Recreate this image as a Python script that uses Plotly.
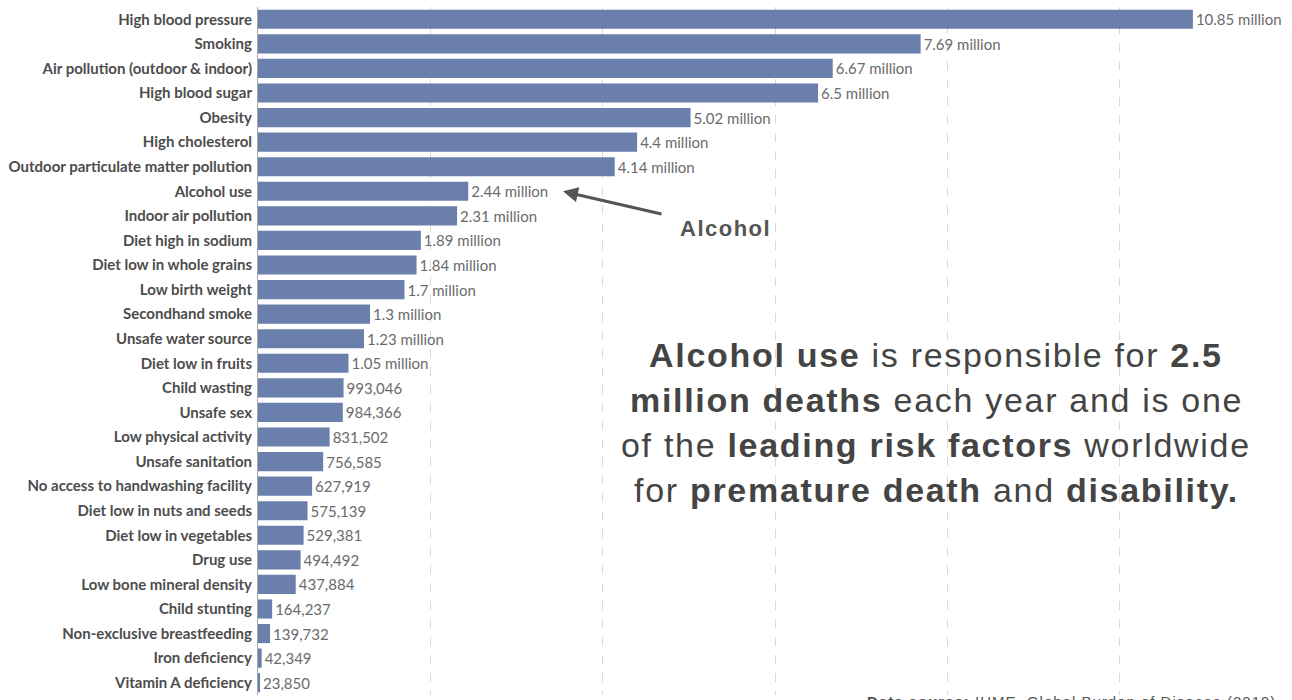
import plotly.graph_objects as go

# Number of deaths attributed to each risk factor (2019)
risk_factors = [
    "High blood pressure", "Smoking", "Air pollution (outdoor & indoor)",
    "High blood sugar", "Obesity", "High cholesterol",
    "Outdoor particulate matter pollution", "Alcohol use", "Indoor air pollution",
    "Diet high in sodium", "Diet low in whole grains", "Low birth weight",
    "Secondhand smoke", "Unsafe water source", "Diet low in fruits",
    "Child wasting", "Unsafe sex", "Low physical activity", "Unsafe sanitation",
    "No access to handwashing facility", "Diet low in nuts and seeds",
    "Diet low in vegetables", "Drug use", "Low bone mineral density",
    "Child stunting", "Non-exclusive breastfeeding", "Iron deficiency",
    "Vitamin A deficiency",
]
deaths = [
    10850000, 7690000, 6670000, 6500000, 5020000, 4400000, 4140000, 2440000,
    2310000, 1890000, 1840000, 1700000, 1300000, 1230000, 1050000,
    993046, 984366, 831502, 756585, 627919, 575139, 529381, 494492, 437884,
    164237, 139732, 42349, 23850,
]
grid_ticks = [0, 2, 4, 6, 8, 10, 12]


def fmt(v):
    if v >= 1_000_000:
        s = f"{v / 1_000_000:.2f}".rstrip("0").rstrip(".")
        return f"{s} million"
    return f"{v:,}"


x_millions = [v / 1_000_000 for v in deaths]
labels = [fmt(v) for v in deaths]

W, H = 1292, 700
M_L, M_R, M_T, M_B = 258, 0, 7, 5
X_MAX = 12
plot_h = H - M_T - M_B


def px_to_paper_y(p):
    return (H - M_B - p) / plot_h


def px_to_x(p):
    return (p - M_L) / (W - M_L - M_R) * X_MAX


def spaced(html, px):
    return f'<span style="letter-spacing:{px}px">{html}</span>'


fig = go.Figure(
    go.Bar(
        x=x_millions,
        y=risk_factors,
        orientation="h",
        text=labels,
        textposition="outside",
        textfont=dict(family="Lato", size=15, color="#6b6b6b"),
        marker=dict(color="#6a7fab", line=dict(width=0)),
        width=0.78,
        cliponaxis=False,
        constraintext="none",
        hoverinfo="skip",
    )
)

fig.update_layout(
    width=W,
    height=H,
    margin=dict(l=M_L, r=M_R, t=M_T, b=M_B, pad=0),
    paper_bgcolor="white",
    plot_bgcolor="white",
    showlegend=False,
    font=dict(family="Lato", color="#555555"),
)

fig.update_xaxes(
    range=[0, X_MAX],
    tickvals=grid_ticks,
    showticklabels=False,
    showgrid=True,
    gridcolor="#d9d9d9",
    griddash="dash",
    gridwidth=1,
    zeroline=False,
    showline=False,
    ticks="",
)

fig.update_yaxes(
    autorange="reversed",
    categoryorder="array",
    categoryarray=risk_factors,
    showline=True,
    linecolor="#a6a6a6",
    linewidth=1,
    showgrid=False,
    ticks="outside",
    ticklen=2,
    tickcolor="rgba(0,0,0,0)",
    tickfont=dict(family="Lato", size=15, color="#4d4d4d", weight="bold"),
)

# Arrow pointing at the alcohol bar
alc = risk_factors.index("Alcohol use")
fig.add_annotation(
    x=px_to_x(563), y=alc, xref="x", yref="y",
    ax=100, ay=23, axref="pixel", ayref="pixel",
    text="", showarrow=True,
    arrowhead=2, arrowsize=1, arrowwidth=3, arrowcolor="#555555",
)
fig.add_annotation(
    x=px_to_x(725), y=px_to_paper_y(228), xref="x", yref="paper",
    text=spaced("<b>Alcohol</b>", 1.5), showarrow=False,
    font=dict(family="Liberation Sans", size=22, color="#555555"),
    xanchor="center", yanchor="middle",
)

# Headline statement
statement = [
    "<b>Alcohol use</b> is responsible for <b>2.5</b>",
    "<b>million deaths</b> each year and is one",
    "of the <b>leading risk factors</b> worldwide",
    "for <b>premature death</b> and <b>disability.</b>",
]
for i, line in enumerate(statement):
    fig.add_annotation(
        x=px_to_x(936), y=px_to_paper_y(355 + 45 * i), xref="x", yref="paper",
        text=spaced(line, 1.7), showarrow=False,
        font=dict(family="Liberation Sans", size=34, color="#444444"),
        xanchor="center", yanchor="middle",
    )

fig.add_annotation(
    x=px_to_x(865), y=px_to_paper_y(691), xref="x", yref="paper",
    text=spaced("<b>Data source:</b> IHME, Global Burden of Disease (2019)", 1),
    showarrow=False,
    font=dict(family="Liberation Sans", size=15, color="#555555"),
    xanchor="left", yanchor="top",
)

fig.write_html("out.html")
